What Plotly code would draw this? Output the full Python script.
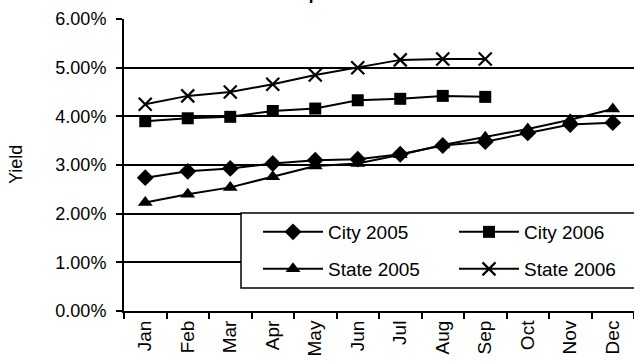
import plotly.graph_objects as go

months = ["Jan", "Feb", "Mar", "Apr", "May", "Jun", "Jul", "Aug", "Sep", "Oct", "Nov", "Dec"]
city_2005 = [2.74, 2.87, 2.93, 3.03, 3.10, 3.12, 3.22, 3.40, 3.48, 3.66, 3.83, 3.87]
city_2006 = [3.90, 3.96, 3.99, 4.11, 4.16, 4.33, 4.36, 4.42, 4.40]
state_2005 = [2.23, 2.40, 2.54, 2.76, 2.98, 3.03, 3.21, 3.41, 3.57, 3.74, 3.93, 4.15]
state_2006 = [4.25, 4.42, 4.50, 4.66, 4.85, 5.00, 5.16, 5.18, 5.18]

FONT = "Liberation Sans, Arial, sans-serif"
PLOT_W, PLOT_H, ML, MT = 510, 292, 124, 19

def px_x(p):
    return (p - ML) / PLOT_W

def px_y(p):
    return (MT + PLOT_H - p) / PLOT_H

fig = go.Figure()
series = [
    ("City 2005", city_2005, "diamond", 13, 0, "legend"),
    ("City 2006", city_2006, "square", 12, 0, "legend"),
    ("State 2005", state_2005, "triangle-up", 13, 0, "legend2"),
    ("State 2006", state_2006, "x-thin", 13, 2.2, "legend2"),
]
for name, vals, sym, size, lw, lg in series:
    fig.add_trace(go.Scatter(
        x=months[:len(vals)], y=vals, name=name, mode="lines+markers",
        line=dict(color="black", width=2),
        marker=dict(symbol=sym, size=size, color="black",
                    line=dict(color="black", width=lw)),
        legend=lg,
    ))

leg_common = dict(
    orientation="h", xanchor="left", yanchor="middle",
    bgcolor="rgba(0,0,0,0)", borderwidth=0,
    entrywidth=121, entrywidthmode="pixels", itemwidth=60,
    font=dict(family=FONT, size=19, color="black"),
    traceorder="normal",
)
fig.update_layout(
    width=634, height=364, autosize=False,
    margin=dict(l=ML, r=634 - ML - PLOT_W, t=MT, b=364 - MT - PLOT_H, autoexpand=False),
    paper_bgcolor="white", plot_bgcolor="white",
    font=dict(family=FONT, size=18, color="black"),
    showlegend=True,
    legend=dict(x=px_x(258), y=px_y(232), **leg_common),
    legend2=dict(x=px_x(258), y=px_y(269), **leg_common),
)
# legend frame
fig.add_shape(
    type="rect", xref="paper", yref="paper", layer="above",
    x0=px_x(241), x1=1.05, y0=px_y(288), y1=px_y(213),
    fillcolor="white", line=dict(color="black", width=1.5),
)
fig.update_yaxes(
    range=[0, 6], dtick=1, tickformat=".2f", ticksuffix="%",
    showgrid=True, gridcolor="black", gridwidth=1.5,
    showline=True, linecolor="black", linewidth=2,
    ticks="outside", ticklen=6, tickcolor="black", tickwidth=1.5,
    ticklabelstandoff=6, zeroline=False,
    tickfont=dict(family=FONT, size=18, color="black"),
)
fig.update_xaxes(
    type="category", categoryorder="array", categoryarray=months,
    range=[-0.5, 11.5], tickson="boundaries",
    showline=True, linecolor="black", linewidth=2,
    ticks="outside", ticklen=6, tickcolor="black", tickwidth=2,
    tickangle=-90, showgrid=False, automargin=False,
    tickfont=dict(family=FONT, size=19, color="black"),
)
fig.add_annotation(
    text="Yield", xref="paper", yref="paper", x=px_x(16), y=0.5,
    textangle=-90, showarrow=False, xanchor="center", yanchor="middle",
    font=dict(family=FONT, size=18, color="black"),
)
fig.add_annotation(
    text="<b>Comparisons</b>", xref="paper", yref="paper", x=px_x(325), y=px_y(6),
    showarrow=False, xanchor="center", yanchor="bottom",
    font=dict(family=FONT, size=17, color="black"),
)

fig.write_html("out.html", config=dict(displayModeBar=False),
               post_script="document.body.style.margin='0';")
